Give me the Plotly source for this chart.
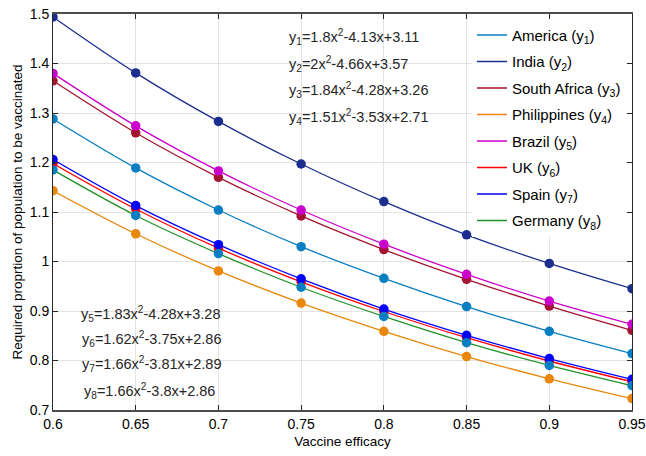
import plotly.graph_objects as go

efficacy = [0.6, 0.65, 0.7, 0.75, 0.8, 0.85, 0.9, 0.95]

countries = ["America", "India", "South Africa", "Philippines", "Brazil", "UK", "Spain", "Germany"]

america = [1.288, 1.189, 1.104, 1.030, 0.966, 0.909, 0.859, 0.814]
india = [1.494, 1.381, 1.283, 1.197, 1.121, 1.054, 0.996, 0.945]
south_africa = [1.365, 1.260, 1.170, 1.092, 1.024, 0.964, 0.910, 0.861]
philippines = [1.143, 1.056, 0.981, 0.916, 0.859, 0.808, 0.763, 0.723]
brazil = [1.380, 1.274, 1.183, 1.104, 1.035, 0.974, 0.920, 0.873]
uk = [1.198, 1.106, 1.027, 0.959, 0.899, 0.846, 0.799, 0.757]
spain = [1.206, 1.113, 1.034, 0.965, 0.904, 0.851, 0.804, 0.762]
germany = [1.185, 1.093, 1.016, 0.948, 0.889, 0.836, 0.790, 0.749]

series = [america, india, south_africa, philippines, brazil, uk, spain, germany]

line_colors = ["#0A7EC2", "#1C2E8E", "#A2142F", "#E8870C", "#CC00CC", "#FF0000", "#0000FF", "#22922A"]
marker_colors = ["#0A7EC2", "#1C2E8E", "#A2142F", "#E8870C", "#CC00CC", "#FF0000", "#0000FF", "#0A7EC2"]

equations_top = [
    "y<sub>1</sub>=1.8x<sup>2</sup>-4.13x+3.11",
    "y<sub>2</sub>=2x<sup>2</sup>-4.66x+3.57",
    "y<sub>3</sub>=1.84x<sup>2</sup>-4.28x+3.26",
    "y<sub>4</sub>=1.51x<sup>2</sup>-3.53x+2.71",
]
equations_bottom = [
    "y<sub>5</sub>=1.83x<sup>2</sup>-4.28x+3.28",
    "y<sub>6</sub>=1.62x<sup>2</sup>-3.75x+2.86",
    "y<sub>7</sub>=1.66x<sup>2</sup>-3.81x+2.89",
    "y<sub>8</sub>=1.66x<sup>2</sup>-3.8x+2.86",
]

x_ticks = [0.6, 0.65, 0.7, 0.75, 0.8, 0.85, 0.9, 0.95]
x_ticklabels = ["0.6", "0.65", "0.7", "0.75", "0.8", "0.85", "0.9", "0.95"]
y_ticks = [0.7, 0.8, 0.9, 1.0, 1.1, 1.2, 1.3, 1.4, 1.5]
y_ticklabels = ["0.7", "0.8", "0.9", "1", "1.1", "1.2", "1.3", "1.4", "1.5"]

FONT = "Liberation Sans, Arial, Helvetica, sans-serif"

fig = go.Figure()

for i, (name, ys) in enumerate(zip(countries, series)):
    fig.add_trace(go.Scatter(
        x=efficacy, y=ys, mode="lines", line=dict(color=line_colors[i], width=1.3, shape="spline"),
        name=f"{name} (y<sub>{i+1}</sub>)", legendgroup=f"g{i}", showlegend=True,
    ))

for i, ys in enumerate(series):
    fig.add_trace(go.Scatter(
        x=efficacy, y=ys, mode="markers",
        marker=dict(color=marker_colors[i], size=9.5, line=dict(width=0)),
        showlegend=False, legendgroup=f"g{i}",
    ))

plot_left, plot_right, plot_top, plot_bottom = 53, 632, 14, 410
plot_w = plot_right - plot_left
plot_h = plot_bottom - plot_top

annotations = []
top_y = [37, 63.5, 90, 116.5]
bot_y = [314, 339, 364, 391]
bot_x = [79, 80, 80, 82]
for txt, py in zip(equations_top, top_y):
    annotations.append(dict(text=txt, xref="paper", yref="paper",
                            x=(287 - plot_left) / plot_w, y=1 - (py - plot_top) / plot_h,
                            xanchor="left", yanchor="middle", showarrow=False,
                            font=dict(size=14.5, color="#262626", family=FONT)))
for txt, px, py in zip(equations_bottom, bot_x, bot_y):
    annotations.append(dict(text=txt, xref="paper", yref="paper",
                            x=(px - plot_left) / plot_w, y=1 - (py - plot_top) / plot_h,
                            xanchor="left", yanchor="middle", showarrow=False,
                            font=dict(size=14.5, color="#262626", family=FONT)))

fig.update_layout(
    width=646, height=456,
    margin=dict(l=plot_left, r=646 - plot_right, t=plot_top, b=456 - plot_bottom, autoexpand=False),
    paper_bgcolor="white", plot_bgcolor="white",
    font=dict(family=FONT, size=14, color="#262626"),
    annotations=annotations,
    legend=dict(x=(472 - plot_left) / plot_w, y=0.988, xanchor="left", yanchor="top", bgcolor="white",
                borderwidth=0, font=dict(size=15, color="#000000", family=FONT),
                tracegroupgap=4, itemwidth=30),
    xaxis=dict(range=[0.6, 0.95], tickvals=x_ticks, ticktext=x_ticklabels,
               showgrid=True, gridcolor="#E3E3E3", gridwidth=1,
               showline=True, linecolor="#4D4D4D", linewidth=1.5, mirror="ticks",
               ticks="inside", ticklen=5, tickcolor="#262626", zeroline=False,
               tickfont=dict(size=14, color="#000000"), ticklabeloverflow="allow", automargin=False,
               title=dict(text="Vaccine efficacy", font=dict(size=13.5, color="#000000"), standoff=6)),
    yaxis=dict(range=[0.7, 1.5], tickvals=y_ticks, ticktext=y_ticklabels,
               showgrid=True, gridcolor="#E3E3E3", gridwidth=1,
               showline=True, linecolor="#262626", linewidth=1, mirror="ticks",
               ticks="inside", ticklen=5, tickcolor="#262626", zeroline=False,
               tickfont=dict(size=14, color="#000000"), ticklabeloverflow="allow", automargin=False,
               title=dict(text="Required proprtion of population to be vaccinated",
                          font=dict(size=13.5, color="#000000"), standoff=4)),
)

fig.write_html("out.html")
